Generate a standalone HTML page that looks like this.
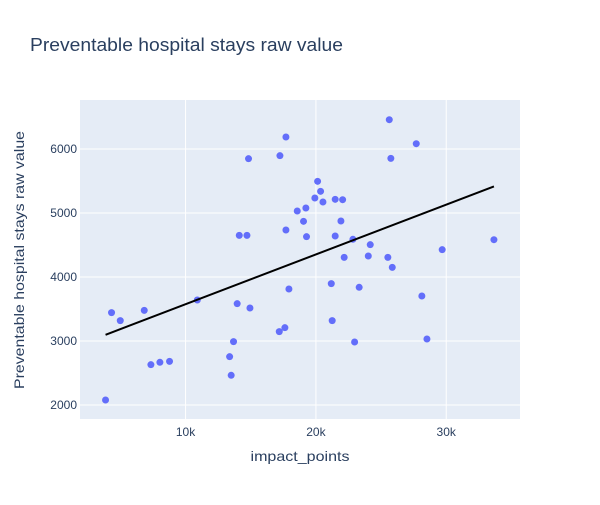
<!DOCTYPE html>
<html><head><meta charset="utf-8"><style>
body{margin:0;background:#fff;font-family:"Liberation Sans",Arial,sans-serif}
svg text{font-family:"Liberation Sans",Arial,sans-serif;fill:#2a3f5f}
</style></head><body>
<svg id="chart" width="600" height="500">
<rect x="0" y="0" width="600" height="500" fill="#fff"/>
<text x="30" y="51" font-size="18" textLength="313" lengthAdjust="spacingAndGlyphs">Preventable hospital stays raw value</text>
<rect x="80" y="100" width="440" height="319" fill="#e5ecf6"/>
<g id="grid"></g><g id="ticks"></g><g id="marks"></g>
<text x="300" y="461" font-size="14" text-anchor="middle" textLength="99" lengthAdjust="spacingAndGlyphs">impact_points</text>
<text transform="translate(24,260) rotate(-90)" font-size="14" text-anchor="middle" textLength="258" lengthAdjust="spacingAndGlyphs">Preventable hospital stays raw value</text>
</svg>
<script>
const xValues=[3.86,4.32,4.99,6.83,7.34,8.03,8.77,10.9,13.38,13.5,13.68,13.96,14.12,14.71,14.83,14.94,17.19,17.24,17.62,17.7,17.7,17.93,18.57,19.05,19.23,19.28,19.92,20.13,20.36,20.54,21.18,21.25,21.48,21.48,21.92,22.05,22.17,22.84,22.97,23.32,24.02,24.17,25.52,25.63,25.75,25.86,27.7,28.13,28.52,29.69,33.66].map(v=>v*1000);
const yValues=[2078,3443,3318,3479,2630,2667,2682,3641,2755,2464,2990,3583,4651,4651,5849,3516,3146,5896,3208,4734,6188,3813,5031,4870,5078,4630,5234,5495,5339,5172,3896,3318,5214,4641,4875,5208,4307,4589,2984,3839,4328,4505,4307,6458,5854,4151,6083,3703,3031,4427,4583];
const xTicks=[10000,20000,30000];
const xTickLabels=["10k","20k","30k"];
const yTicks=[2000,3000,4000,5000,6000];
const yTickLabels=["2000","3000","4000","5000","6000"];
const NS="http://www.w3.org/2000/svg";
const X0=80,X1=520,Y0=419,Y1=100;
const xMin=1900,xMax=35660,yMin=1781,yMax=6766;
const sx=v=>X0+(v-xMin)/(xMax-xMin)*(X1-X0);
const sy=v=>Y0-(v-yMin)/(yMax-yMin)*(Y0-Y1);
function mk(tag,attrs,parent){const e=document.createElementNS(NS,tag);for(const k in attrs)e.setAttribute(k,attrs[k]);document.getElementById(parent).appendChild(e);return e;}
xTicks.forEach((t,i)=>{
 const l=mk('line',{x1:sx(t),x2:sx(t),y1:Y1,y2:Y0,stroke:'#fff','stroke-width':1},'grid');
 
 
 const tx=mk('text',{x:sx(t),y:436,'font-size':12,'text-anchor':'middle'},'ticks');
 tx.textContent=xTickLabels[i];
 
 
});
yTicks.forEach((t,i)=>{
 const l=mk('line',{x1:X0,x2:X1,y1:sy(t),y2:sy(t),stroke:'#fff','stroke-width':1},'grid');
 
 
 const tx=mk('text',{x:77,y:sy(t)+4,'font-size':12,'text-anchor':'end'},'ticks');
 tx.textContent=yTickLabels[i];
 
 
});
xValues.forEach((x,i)=>{
 const c=mk('circle',{cx:sx(x),cy:sy(yValues[i]),r:3.5,fill:'#636efa'},'marks');
 
 
});
const n=xValues.length;
const mx=xValues.reduce((a,b)=>a+b,0)/n,my=yValues.reduce((a,b)=>a+b,0)/n;
let sxy=0,sxx=0;for(let i=0;i<n;i++){sxy+=(xValues[i]-mx)*(yValues[i]-my);sxx+=(xValues[i]-mx)**2;}
const slope=sxy/sxx,icpt=my-slope*mx;
const xa=Math.min(...xValues),xb=Math.max(...xValues);
const tl=mk('line',{x1:sx(xa),y1:sy(icpt+slope*xa),x2:sx(xb),y2:sy(icpt+slope*xb),stroke:'#000','stroke-width':2},'marks');


</script>
</body></html>
